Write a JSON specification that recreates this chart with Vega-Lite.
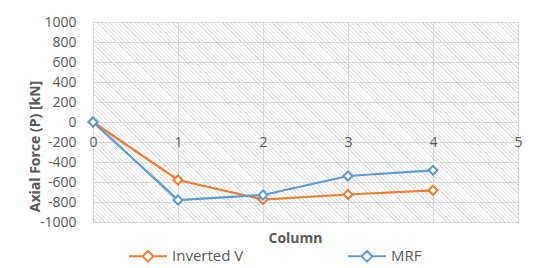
{
  "$schema": "https://vega.github.io/schema/vega-lite/v6.json",
  "width": 425,
  "height": 200,
  "autosize": {"type": "none"},
  "padding": {"left": 93, "top": 22, "right": 22, "bottom": 46},
  "background": "white",
  "config": {
    "font": "Open Sans",
    "view": {"stroke": null, "fill": {"gradient":"linear","x1":0,"y1":1,"x2":1.2039,"y2":0.43346,"stops":[
{"offset":0,"color":"#d8d8d8"},{"offset":0,"color":"#fff"},{"offset":0.00333,"color":"#fff"},{"offset":0.00667,"color":"#d8d8d8"},{"offset":0.00667,"color":"#fff"},{"offset":0.01,"color":"#fff"},{"offset":0.01333,"color":"#d8d8d8"},{"offset":0.01333,"color":"#fff"},{"offset":0.01667,"color":"#fff"},
{"offset":0.02,"color":"#d8d8d8"},{"offset":0.02,"color":"#fff"},{"offset":0.02333,"color":"#fff"},{"offset":0.02667,"color":"#d8d8d8"},{"offset":0.02667,"color":"#fff"},{"offset":0.03,"color":"#fff"},{"offset":0.03333,"color":"#d8d8d8"},{"offset":0.03333,"color":"#fff"},{"offset":0.03667,"color":"#fff"},
{"offset":0.04,"color":"#d8d8d8"},{"offset":0.04,"color":"#fff"},{"offset":0.04333,"color":"#fff"},{"offset":0.04667,"color":"#d8d8d8"},{"offset":0.04667,"color":"#fff"},{"offset":0.05,"color":"#fff"},{"offset":0.05333,"color":"#d8d8d8"},{"offset":0.05333,"color":"#fff"},{"offset":0.05667,"color":"#fff"},
{"offset":0.06,"color":"#d8d8d8"},{"offset":0.06,"color":"#fff"},{"offset":0.06333,"color":"#fff"},{"offset":0.06667,"color":"#d8d8d8"},{"offset":0.06667,"color":"#fff"},{"offset":0.07,"color":"#fff"},{"offset":0.07333,"color":"#d8d8d8"},{"offset":0.07333,"color":"#fff"},{"offset":0.07667,"color":"#fff"},
{"offset":0.08,"color":"#d8d8d8"},{"offset":0.08,"color":"#fff"},{"offset":0.08333,"color":"#fff"},{"offset":0.08667,"color":"#d8d8d8"},{"offset":0.08667,"color":"#fff"},{"offset":0.09,"color":"#fff"},{"offset":0.09333,"color":"#d8d8d8"},{"offset":0.09333,"color":"#fff"},{"offset":0.09667,"color":"#fff"},
{"offset":0.1,"color":"#d8d8d8"},{"offset":0.1,"color":"#fff"},{"offset":0.10333,"color":"#fff"},{"offset":0.10667,"color":"#d8d8d8"},{"offset":0.10667,"color":"#fff"},{"offset":0.11,"color":"#fff"},{"offset":0.11333,"color":"#d8d8d8"},{"offset":0.11333,"color":"#fff"},{"offset":0.11667,"color":"#fff"},
{"offset":0.12,"color":"#d8d8d8"},{"offset":0.12,"color":"#fff"},{"offset":0.12333,"color":"#fff"},{"offset":0.12667,"color":"#d8d8d8"},{"offset":0.12667,"color":"#fff"},{"offset":0.13,"color":"#fff"},{"offset":0.13333,"color":"#d8d8d8"},{"offset":0.13333,"color":"#fff"},{"offset":0.13667,"color":"#fff"},
{"offset":0.14,"color":"#d8d8d8"},{"offset":0.14,"color":"#fff"},{"offset":0.14333,"color":"#fff"},{"offset":0.14667,"color":"#d8d8d8"},{"offset":0.14667,"color":"#fff"},{"offset":0.15,"color":"#fff"},{"offset":0.15333,"color":"#d8d8d8"},{"offset":0.15333,"color":"#fff"},{"offset":0.15667,"color":"#fff"},
{"offset":0.16,"color":"#d8d8d8"},{"offset":0.16,"color":"#fff"},{"offset":0.16333,"color":"#fff"},{"offset":0.16667,"color":"#d8d8d8"},{"offset":0.16667,"color":"#fff"},{"offset":0.17,"color":"#fff"},{"offset":0.17333,"color":"#d8d8d8"},{"offset":0.17333,"color":"#fff"},{"offset":0.17667,"color":"#fff"},
{"offset":0.18,"color":"#d8d8d8"},{"offset":0.18,"color":"#fff"},{"offset":0.18333,"color":"#fff"},{"offset":0.18667,"color":"#d8d8d8"},{"offset":0.18667,"color":"#fff"},{"offset":0.19,"color":"#fff"},{"offset":0.19333,"color":"#d8d8d8"},{"offset":0.19333,"color":"#fff"},{"offset":0.19667,"color":"#fff"},
{"offset":0.2,"color":"#d8d8d8"},{"offset":0.2,"color":"#fff"},{"offset":0.20333,"color":"#fff"},{"offset":0.20667,"color":"#d8d8d8"},{"offset":0.20667,"color":"#fff"},{"offset":0.21,"color":"#fff"},{"offset":0.21333,"color":"#d8d8d8"},{"offset":0.21333,"color":"#fff"},{"offset":0.21667,"color":"#fff"},
{"offset":0.22,"color":"#d8d8d8"},{"offset":0.22,"color":"#fff"},{"offset":0.22333,"color":"#fff"},{"offset":0.22667,"color":"#d8d8d8"},{"offset":0.22667,"color":"#fff"},{"offset":0.23,"color":"#fff"},{"offset":0.23333,"color":"#d8d8d8"},{"offset":0.23333,"color":"#fff"},{"offset":0.23667,"color":"#fff"},
{"offset":0.24,"color":"#d8d8d8"},{"offset":0.24,"color":"#fff"},{"offset":0.24333,"color":"#fff"},{"offset":0.24667,"color":"#d8d8d8"},{"offset":0.24667,"color":"#fff"},{"offset":0.25,"color":"#fff"},{"offset":0.25333,"color":"#d8d8d8"},{"offset":0.25333,"color":"#fff"},{"offset":0.25667,"color":"#fff"},
{"offset":0.26,"color":"#d8d8d8"},{"offset":0.26,"color":"#fff"},{"offset":0.26333,"color":"#fff"},{"offset":0.26667,"color":"#d8d8d8"},{"offset":0.26667,"color":"#fff"},{"offset":0.27,"color":"#fff"},{"offset":0.27333,"color":"#d8d8d8"},{"offset":0.27333,"color":"#fff"},{"offset":0.27667,"color":"#fff"},
{"offset":0.28,"color":"#d8d8d8"},{"offset":0.28,"color":"#fff"},{"offset":0.28333,"color":"#fff"},{"offset":0.28667,"color":"#d8d8d8"},{"offset":0.28667,"color":"#fff"},{"offset":0.29,"color":"#fff"},{"offset":0.29333,"color":"#d8d8d8"},{"offset":0.29333,"color":"#fff"},{"offset":0.29667,"color":"#fff"},
{"offset":0.3,"color":"#d8d8d8"},{"offset":0.3,"color":"#fff"},{"offset":0.30333,"color":"#fff"},{"offset":0.30667,"color":"#d8d8d8"},{"offset":0.30667,"color":"#fff"},{"offset":0.31,"color":"#fff"},{"offset":0.31333,"color":"#d8d8d8"},{"offset":0.31333,"color":"#fff"},{"offset":0.31667,"color":"#fff"},
{"offset":0.32,"color":"#d8d8d8"},{"offset":0.32,"color":"#fff"},{"offset":0.32333,"color":"#fff"},{"offset":0.32667,"color":"#d8d8d8"},{"offset":0.32667,"color":"#fff"},{"offset":0.33,"color":"#fff"},{"offset":0.33333,"color":"#d8d8d8"},{"offset":0.33333,"color":"#fff"},{"offset":0.33667,"color":"#fff"},
{"offset":0.34,"color":"#d8d8d8"},{"offset":0.34,"color":"#fff"},{"offset":0.34333,"color":"#fff"},{"offset":0.34667,"color":"#d8d8d8"},{"offset":0.34667,"color":"#fff"},{"offset":0.35,"color":"#fff"},{"offset":0.35333,"color":"#d8d8d8"},{"offset":0.35333,"color":"#fff"},{"offset":0.35667,"color":"#fff"},
{"offset":0.36,"color":"#d8d8d8"},{"offset":0.36,"color":"#fff"},{"offset":0.36333,"color":"#fff"},{"offset":0.36667,"color":"#d8d8d8"},{"offset":0.36667,"color":"#fff"},{"offset":0.37,"color":"#fff"},{"offset":0.37333,"color":"#d8d8d8"},{"offset":0.37333,"color":"#fff"},{"offset":0.37667,"color":"#fff"},
{"offset":0.38,"color":"#d8d8d8"},{"offset":0.38,"color":"#fff"},{"offset":0.38333,"color":"#fff"},{"offset":0.38667,"color":"#d8d8d8"},{"offset":0.38667,"color":"#fff"},{"offset":0.39,"color":"#fff"},{"offset":0.39333,"color":"#d8d8d8"},{"offset":0.39333,"color":"#fff"},{"offset":0.39667,"color":"#fff"},
{"offset":0.4,"color":"#d8d8d8"},{"offset":0.4,"color":"#fff"},{"offset":0.40333,"color":"#fff"},{"offset":0.40667,"color":"#d8d8d8"},{"offset":0.40667,"color":"#fff"},{"offset":0.41,"color":"#fff"},{"offset":0.41333,"color":"#d8d8d8"},{"offset":0.41333,"color":"#fff"},{"offset":0.41667,"color":"#fff"},
{"offset":0.42,"color":"#d8d8d8"},{"offset":0.42,"color":"#fff"},{"offset":0.42333,"color":"#fff"},{"offset":0.42667,"color":"#d8d8d8"},{"offset":0.42667,"color":"#fff"},{"offset":0.43,"color":"#fff"},{"offset":0.43333,"color":"#d8d8d8"},{"offset":0.43333,"color":"#fff"},{"offset":0.43667,"color":"#fff"},
{"offset":0.44,"color":"#d8d8d8"},{"offset":0.44,"color":"#fff"},{"offset":0.44333,"color":"#fff"},{"offset":0.44667,"color":"#d8d8d8"},{"offset":0.44667,"color":"#fff"},{"offset":0.45,"color":"#fff"},{"offset":0.45333,"color":"#d8d8d8"},{"offset":0.45333,"color":"#fff"},{"offset":0.45667,"color":"#fff"},
{"offset":0.46,"color":"#d8d8d8"},{"offset":0.46,"color":"#fff"},{"offset":0.46333,"color":"#fff"},{"offset":0.46667,"color":"#d8d8d8"},{"offset":0.46667,"color":"#fff"},{"offset":0.47,"color":"#fff"},{"offset":0.47333,"color":"#d8d8d8"},{"offset":0.47333,"color":"#fff"},{"offset":0.47667,"color":"#fff"},
{"offset":0.48,"color":"#d8d8d8"},{"offset":0.48,"color":"#fff"},{"offset":0.48333,"color":"#fff"},{"offset":0.48667,"color":"#d8d8d8"},{"offset":0.48667,"color":"#fff"},{"offset":0.49,"color":"#fff"},{"offset":0.49333,"color":"#d8d8d8"},{"offset":0.49333,"color":"#fff"},{"offset":0.49667,"color":"#fff"},
{"offset":0.5,"color":"#d8d8d8"},{"offset":0.5,"color":"#fff"},{"offset":0.50333,"color":"#fff"},{"offset":0.50667,"color":"#d8d8d8"},{"offset":0.50667,"color":"#fff"},{"offset":0.51,"color":"#fff"},{"offset":0.51333,"color":"#d8d8d8"},{"offset":0.51333,"color":"#fff"},{"offset":0.51667,"color":"#fff"},
{"offset":0.52,"color":"#d8d8d8"},{"offset":0.52,"color":"#fff"},{"offset":0.52333,"color":"#fff"},{"offset":0.52667,"color":"#d8d8d8"},{"offset":0.52667,"color":"#fff"},{"offset":0.53,"color":"#fff"},{"offset":0.53333,"color":"#d8d8d8"},{"offset":0.53333,"color":"#fff"},{"offset":0.53667,"color":"#fff"},
{"offset":0.54,"color":"#d8d8d8"},{"offset":0.54,"color":"#fff"},{"offset":0.54333,"color":"#fff"},{"offset":0.54667,"color":"#d8d8d8"},{"offset":0.54667,"color":"#fff"},{"offset":0.55,"color":"#fff"},{"offset":0.55333,"color":"#d8d8d8"},{"offset":0.55333,"color":"#fff"},{"offset":0.55667,"color":"#fff"},
{"offset":0.56,"color":"#d8d8d8"},{"offset":0.56,"color":"#fff"},{"offset":0.56333,"color":"#fff"},{"offset":0.56667,"color":"#d8d8d8"},{"offset":0.56667,"color":"#fff"},{"offset":0.57,"color":"#fff"},{"offset":0.57333,"color":"#d8d8d8"},{"offset":0.57333,"color":"#fff"},{"offset":0.57667,"color":"#fff"},
{"offset":0.58,"color":"#d8d8d8"},{"offset":0.58,"color":"#fff"},{"offset":0.58333,"color":"#fff"},{"offset":0.58667,"color":"#d8d8d8"},{"offset":0.58667,"color":"#fff"},{"offset":0.59,"color":"#fff"},{"offset":0.59333,"color":"#d8d8d8"},{"offset":0.59333,"color":"#fff"},{"offset":0.59667,"color":"#fff"},
{"offset":0.6,"color":"#d8d8d8"},{"offset":0.6,"color":"#fff"},{"offset":0.60333,"color":"#fff"},{"offset":0.60667,"color":"#d8d8d8"},{"offset":0.60667,"color":"#fff"},{"offset":0.61,"color":"#fff"},{"offset":0.61333,"color":"#d8d8d8"},{"offset":0.61333,"color":"#fff"},{"offset":0.61667,"color":"#fff"},
{"offset":0.62,"color":"#d8d8d8"},{"offset":0.62,"color":"#fff"},{"offset":0.62333,"color":"#fff"},{"offset":0.62667,"color":"#d8d8d8"},{"offset":0.62667,"color":"#fff"},{"offset":0.63,"color":"#fff"},{"offset":0.63333,"color":"#d8d8d8"},{"offset":0.63333,"color":"#fff"},{"offset":0.63667,"color":"#fff"},
{"offset":0.64,"color":"#d8d8d8"},{"offset":0.64,"color":"#fff"},{"offset":0.64333,"color":"#fff"},{"offset":0.64667,"color":"#d8d8d8"},{"offset":0.64667,"color":"#fff"},{"offset":0.65,"color":"#fff"},{"offset":0.65333,"color":"#d8d8d8"},{"offset":0.65333,"color":"#fff"},{"offset":0.65667,"color":"#fff"},
{"offset":0.66,"color":"#d8d8d8"},{"offset":0.66,"color":"#fff"},{"offset":0.66333,"color":"#fff"},{"offset":0.66667,"color":"#d8d8d8"},{"offset":0.66667,"color":"#fff"},{"offset":0.67,"color":"#fff"},{"offset":0.67333,"color":"#d8d8d8"},{"offset":0.67333,"color":"#fff"},{"offset":0.67667,"color":"#fff"},
{"offset":0.68,"color":"#d8d8d8"},{"offset":0.68,"color":"#fff"},{"offset":0.68333,"color":"#fff"},{"offset":0.68667,"color":"#d8d8d8"},{"offset":0.68667,"color":"#fff"},{"offset":0.69,"color":"#fff"},{"offset":0.69333,"color":"#d8d8d8"},{"offset":0.69333,"color":"#fff"},{"offset":0.69667,"color":"#fff"},
{"offset":0.7,"color":"#d8d8d8"},{"offset":0.7,"color":"#fff"},{"offset":0.70333,"color":"#fff"},{"offset":0.70667,"color":"#d8d8d8"},{"offset":0.70667,"color":"#fff"},{"offset":0.71,"color":"#fff"},{"offset":0.71333,"color":"#d8d8d8"},{"offset":0.71333,"color":"#fff"},{"offset":0.71667,"color":"#fff"},
{"offset":0.72,"color":"#d8d8d8"},{"offset":0.72,"color":"#fff"},{"offset":0.72333,"color":"#fff"},{"offset":0.72667,"color":"#d8d8d8"},{"offset":0.72667,"color":"#fff"},{"offset":0.73,"color":"#fff"},{"offset":0.73333,"color":"#d8d8d8"},{"offset":0.73333,"color":"#fff"},{"offset":0.73667,"color":"#fff"},
{"offset":0.74,"color":"#d8d8d8"},{"offset":0.74,"color":"#fff"},{"offset":0.74333,"color":"#fff"},{"offset":0.74667,"color":"#d8d8d8"},{"offset":0.74667,"color":"#fff"},{"offset":0.75,"color":"#fff"},{"offset":0.75333,"color":"#d8d8d8"},{"offset":0.75333,"color":"#fff"},{"offset":0.75667,"color":"#fff"},
{"offset":0.76,"color":"#d8d8d8"},{"offset":0.76,"color":"#fff"},{"offset":0.76333,"color":"#fff"},{"offset":0.76667,"color":"#d8d8d8"},{"offset":0.76667,"color":"#fff"},{"offset":0.77,"color":"#fff"},{"offset":0.77333,"color":"#d8d8d8"},{"offset":0.77333,"color":"#fff"},{"offset":0.77667,"color":"#fff"},
{"offset":0.78,"color":"#d8d8d8"},{"offset":0.78,"color":"#fff"},{"offset":0.78333,"color":"#fff"},{"offset":0.78667,"color":"#d8d8d8"},{"offset":0.78667,"color":"#fff"},{"offset":0.79,"color":"#fff"},{"offset":0.79333,"color":"#d8d8d8"},{"offset":0.79333,"color":"#fff"},{"offset":0.79667,"color":"#fff"},
{"offset":0.8,"color":"#d8d8d8"},{"offset":0.8,"color":"#fff"},{"offset":0.80333,"color":"#fff"},{"offset":0.80667,"color":"#d8d8d8"},{"offset":0.80667,"color":"#fff"},{"offset":0.81,"color":"#fff"},{"offset":0.81333,"color":"#d8d8d8"},{"offset":0.81333,"color":"#fff"},{"offset":0.81667,"color":"#fff"},
{"offset":0.82,"color":"#d8d8d8"},{"offset":0.82,"color":"#fff"},{"offset":0.82333,"color":"#fff"},{"offset":0.82667,"color":"#d8d8d8"},{"offset":0.82667,"color":"#fff"},{"offset":0.83,"color":"#fff"},{"offset":0.83333,"color":"#d8d8d8"},{"offset":0.83333,"color":"#fff"},{"offset":0.83667,"color":"#fff"},
{"offset":0.84,"color":"#d8d8d8"},{"offset":0.84,"color":"#fff"},{"offset":0.84333,"color":"#fff"},{"offset":0.84667,"color":"#d8d8d8"},{"offset":0.84667,"color":"#fff"},{"offset":0.85,"color":"#fff"},{"offset":0.85333,"color":"#d8d8d8"},{"offset":0.85333,"color":"#fff"},{"offset":0.85667,"color":"#fff"},
{"offset":0.86,"color":"#d8d8d8"},{"offset":0.86,"color":"#fff"},{"offset":0.86333,"color":"#fff"},{"offset":0.86667,"color":"#d8d8d8"},{"offset":0.86667,"color":"#fff"},{"offset":0.87,"color":"#fff"},{"offset":0.87333,"color":"#d8d8d8"},{"offset":0.87333,"color":"#fff"},{"offset":0.87667,"color":"#fff"},
{"offset":0.88,"color":"#d8d8d8"},{"offset":0.88,"color":"#fff"},{"offset":0.88333,"color":"#fff"},{"offset":0.88667,"color":"#d8d8d8"},{"offset":0.88667,"color":"#fff"},{"offset":0.89,"color":"#fff"},{"offset":0.89333,"color":"#d8d8d8"},{"offset":0.89333,"color":"#fff"},{"offset":0.89667,"color":"#fff"},
{"offset":0.9,"color":"#d8d8d8"},{"offset":0.9,"color":"#fff"},{"offset":0.90333,"color":"#fff"},{"offset":0.90667,"color":"#d8d8d8"},{"offset":0.90667,"color":"#fff"},{"offset":0.91,"color":"#fff"},{"offset":0.91333,"color":"#d8d8d8"},{"offset":0.91333,"color":"#fff"},{"offset":0.91667,"color":"#fff"},
{"offset":0.92,"color":"#d8d8d8"},{"offset":0.92,"color":"#fff"},{"offset":0.92333,"color":"#fff"},{"offset":0.92667,"color":"#d8d8d8"},{"offset":0.92667,"color":"#fff"},{"offset":0.93,"color":"#fff"},{"offset":0.93333,"color":"#d8d8d8"},{"offset":0.93333,"color":"#fff"},{"offset":0.93667,"color":"#fff"},
{"offset":0.94,"color":"#d8d8d8"},{"offset":0.94,"color":"#fff"},{"offset":0.94333,"color":"#fff"},{"offset":0.94667,"color":"#d8d8d8"},{"offset":0.94667,"color":"#fff"},{"offset":0.95,"color":"#fff"},{"offset":0.95333,"color":"#d8d8d8"},{"offset":0.95333,"color":"#fff"},{"offset":0.95667,"color":"#fff"},
{"offset":0.96,"color":"#d8d8d8"},{"offset":0.96,"color":"#fff"},{"offset":0.96333,"color":"#fff"},{"offset":0.96667,"color":"#d8d8d8"},{"offset":0.96667,"color":"#fff"},{"offset":0.97,"color":"#fff"},{"offset":0.97333,"color":"#d8d8d8"},{"offset":0.97333,"color":"#fff"},{"offset":0.97667,"color":"#fff"},
{"offset":0.98,"color":"#d8d8d8"},{"offset":0.98,"color":"#fff"},{"offset":0.98333,"color":"#fff"},{"offset":0.98667,"color":"#d8d8d8"},{"offset":0.98667,"color":"#fff"},{"offset":0.99,"color":"#fff"},{"offset":0.99333,"color":"#d8d8d8"},{"offset":0.99333,"color":"#fff"},{"offset":0.99667,"color":"#fff"},
{"offset":1,"color":"#d8d8d8"}
]}}
  },
  "data": {
    "values": [
      {"series": "Inverted V", "column": 0, "force": 0},
      {"series": "Inverted V", "column": 1, "force": -580},
      {"series": "Inverted V", "column": 2, "force": -775},
      {"series": "Inverted V", "column": 3, "force": -725},
      {"series": "Inverted V", "column": 4, "force": -683},
      {"series": "MRF", "column": 0, "force": 0},
      {"series": "MRF", "column": 1, "force": -780},
      {"series": "MRF", "column": 2, "force": -730},
      {"series": "MRF", "column": 3, "force": -540},
      {"series": "MRF", "column": 4, "force": -483}
    ]
  },
  "encoding": {
    "x": {
      "field": "column",
      "type": "quantitative",
      "scale": {"domain": [0, 5], "nice": false, "zero": false},
      "axis": {
        "values": [0, 1, 2, 3, 4, 5],
        "domain": false,
        "ticks": false,
        "labelPadding": -87,
        "labelFontSize": 14,
        "labelColor": "#595959",
        "labelFlush": false,
        "grid": true,
        "gridColor": "#d9d9d9",
        "gridWidth": 1,
        "title": "Column",
        "titleFontSize": 14,
        "titleFontWeight": "bold",
        "titleColor": "#595959",
        "titleX": 202,
        "titleY": 16,
        "titleBaseline": "middle"
      }
    },
    "y": {
      "field": "force",
      "type": "quantitative",
      "scale": {"domain": [-1000, 1000], "nice": false},
      "axis": {
        "values": [1000, 800, 600, 400, 200, 0, -200, -400, -600, -800, -1000],
        "labelExpr": "'' + datum.value",
        "domain": false,
        "ticks": false,
        "labelPadding": 17,
        "labelFontSize": 14,
        "labelColor": "#595959",
        "labelFlush": false,
        "grid": true,
        "gridColor": "#d9d9d9",
        "gridWidth": 1,
        "title": "Axial Force (P) [kN]",
        "titleFontSize": 14,
        "titleFontWeight": "bold",
        "titleColor": "#595959",
        "titleX": -58,
        "titleY": 124,
        "titleBaseline": "middle"
      }
    },
    "stroke": {
      "field": "series",
      "type": "nominal",
      "scale": {"domain": ["Inverted V", "MRF"], "range": ["#ED7D31", "#5B9BD5"]},
      "legend": {
        "orient": "none",
        "legendX": 35,
        "legendY": 214,
        "direction": "horizontal",
        "title": null,
        "symbolType": "M-1,0H-0.28M0.28,0H1M-0.28,0L0,-0.28L0.28,0L0,0.28Z",
        "symbolSize": 1444,
        "symbolStrokeWidth": 2,
        "symbolFillColor": "white",
        "labelFontSize": 15,
        "labelColor": "#595959",
        "labelOffset": 4,
        "columnPadding": 100
      }
    }
  },
  "layer": [
    {"mark": {"type": "line", "strokeWidth": 2.25}},
    {"mark": {"type": "point", "shape": "diamond", "filled": true, "fill": "white", "strokeWidth": 2, "size": 80, "opacity": 1}}
  ]
}
